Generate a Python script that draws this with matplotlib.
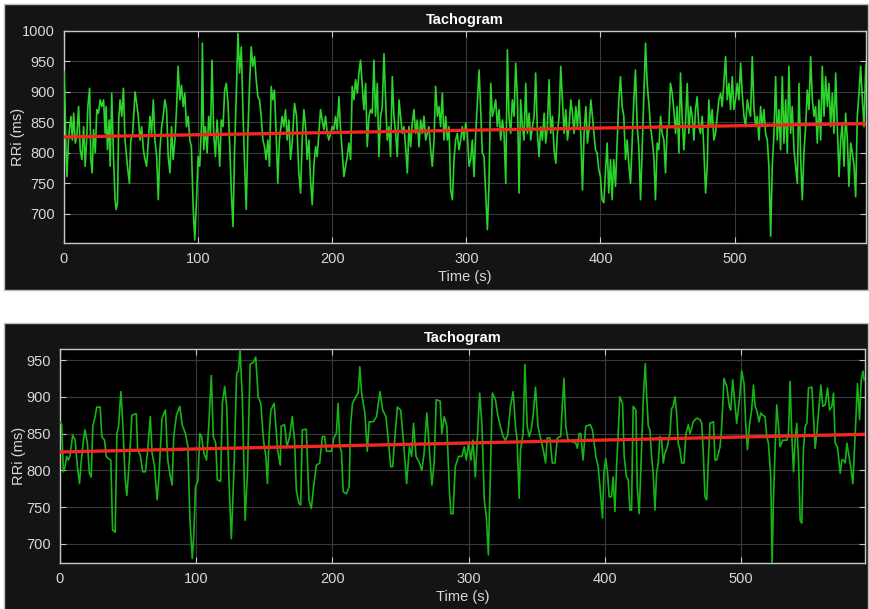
import matplotlib
matplotlib.use("Agg")
import matplotlib.pyplot as plt
from matplotlib.patches import Rectangle

# ---------------- data ----------------
top_time = [0, 0.7, 1.5, 2.2, 3.2, 4.0, 5.2, 6.2, 7.2, 8.4, 9.7, 10.9, 12.1, 13.4, 14.6, 15.8, 17.1, 17.8, 19.1, 20.0,
            21.0, 22.0, 23.3, 24.5, 25.7, 27.0, 28.2, 29.5, 30.7, 31.4, 32.4, 33.7, 34.4, 35.6, 36.9, 38.1, 38.9, 39.9,
            40.8, 41.8, 43.1, 44.3, 45.5, 47.3, 48.8, 49.8, 51.2, 53.0, 54.2, 55.4, 56.7, 57.9, 59.2, 60.4, 61.6, 62.9,
            64.1, 65.3, 66.6, 67.8, 69.1, 70.3, 71.5, 72.8, 74.0, 75.2, 76.5, 77.7, 79.0, 80.2, 81.4, 82.7, 83.9, 85.1,
            86.4, 87.6, 88.9, 90.1, 91.3, 92.6, 93.8, 95.0, 96.3, 97.5, 98.8, 100.0, 101.2, 102.5, 103.2, 104.2, 105.4,
            106.7, 107.9, 109.2, 110.4, 111.6, 112.9, 114.1, 115.1, 116.1, 117.3, 118.6, 119.8, 121.0, 122.3, 123.5,
            124.8, 126.0, 127.2, 128.5, 129.7, 130.9, 132.2, 133.4, 134.7, 135.9, 137.1, 138.4, 139.6, 140.8, 142.1,
            143.3, 144.6, 145.8, 147.0, 148.3, 149.5, 150.7, 152.0, 153.2, 154.5, 155.7, 156.9, 158.2, 159.4, 160.6,
            162.7, 163.9, 165.2, 166.4, 167.7, 168.9, 170.1, 171.9, 173.4, 175.1, 176.4, 177.6, 178.9, 180.1, 181.3,
            182.6, 183.8, 185.1, 186.3, 187.6, 188.8, 190.0, 191.3, 192.5, 193.8, 195.0, 196.3, 197.5, 198.8, 200.0,
            201.2, 202.5, 203.7, 205.0, 206.2, 207.5, 208.7, 210.0, 211.2, 212.4, 213.7, 214.9, 216.2, 217.4, 218.7,
            219.9, 221.1, 222.4, 223.6, 224.9, 226.1, 227.4, 228.6, 229.9, 231.1, 232.3, 233.6, 234.8, 236.1, 237.3,
            238.6, 239.8, 241.0, 242.3, 243.5, 244.8, 246.0, 247.3, 248.5, 249.8, 251.0, 252.2, 253.5, 254.7, 256.0,
            257.2, 258.5, 259.7, 260.9, 262.2, 263.4, 264.7, 265.9, 267.2, 268.4, 269.7, 270.9, 272.1, 273.4, 274.6,
            275.9, 277.1, 278.4, 279.6, 280.8, 282.1, 283.3, 284.6, 285.8, 287.1, 288.3, 289.6, 290.8, 292.0, 293.3,
            294.5, 295.8, 297.0, 298.3, 299.5, 300.7, 302.0, 303.2, 304.5, 305.7, 307.0, 308.2, 309.5, 310.7, 311.9,
            313.2, 314.4, 315.7, 316.9, 318.2, 319.4, 320.6, 321.9, 323.1, 324.4, 325.6, 326.9, 328.1, 329.4, 330.6,
            331.8, 333.1, 334.3, 335.6, 336.8, 338.1, 339.3, 340.5, 341.8, 343.0, 344.3, 345.5, 346.8, 348.0, 349.3,
            350.5, 351.7, 353.0, 354.2, 355.5, 356.7, 358.0, 359.2, 360.4, 361.7, 362.9, 364.2, 365.4, 366.7, 367.9,
            369.2, 370.4, 371.6, 372.9, 374.1, 375.4, 376.6, 377.9, 379.1, 380.3, 381.6, 382.8, 384.1, 385.3, 386.6,
            387.8, 389.1, 390.3, 391.6, 392.8, 394.0,
            396.3, 397.5, 398.8, 400.0, 401.2, 402.5, 403.7, 405.0, 406.2, 407.5, 408.7, 409.9, 411.2, 412.4, 413.7,
            414.9, 416.2, 417.4, 418.7, 419.9, 421.1, 422.4, 423.6, 424.9, 426.1, 427.4, 428.6, 429.9, 431.1, 432.3,
            433.6, 434.8, 436.1, 437.3, 438.6, 439.8, 441.0, 442.3, 443.5, 444.8, 446.0, 447.3, 448.5, 449.8, 451.0,
            452.2, 453.5, 454.7, 456.0, 457.2, 458.5, 459.7, 460.9, 462.2, 463.4, 464.7, 465.9, 467.2, 468.4, 469.7,
            470.9, 472.1, 473.4, 474.6, 475.9, 477.1, 478.4, 479.6, 480.8, 482.1, 483.3, 484.6, 485.8, 487.1, 488.3,
            489.6, 490.8, 492.0, 493.3, 494.5, 495.8, 497.0, 498.3, 499.5, 500.7, 502.0, 503.2, 504.5, 505.7, 507.0,
            508.2, 509.5, 510.7, 511.9, 513.2, 514.4, 515.7, 516.9, 518.2, 519.4, 520.6, 521.9, 523.1, 524.4, 525.6,
            526.9, 528.1, 529.4, 530.6, 531.8, 533.1, 534.3, 535.6, 536.8, 538.1, 539.3, 540.5, 541.8, 543.0, 544.3,
            545.5, 546.8, 548.0, 549.3, 550.5, 551.7, 553.0, 554.2, 555.5, 556.7, 558.0, 559.2, 560.4, 561.7, 562.9,
            564.2, 565.4, 566.7, 567.9, 569.2, 570.4, 571.6, 572.9, 574.1, 575.4, 576.6, 577.9, 579.1, 580.3, 581.6,
            582.8, 584.1, 585.3, 586.6, 587.8, 589.1, 590.3, 591.5, 592.8, 594.0, 595.3, 596.5, 597.8, 599.0]

top_rri = [933, 887, 800, 761, 816, 838, 860, 821, 865, 816, 832, 876, 805, 789, 843, 778, 832, 876, 906, 789,
           767, 838, 800, 871, 865, 887, 876, 887, 832, 876, 805, 854, 778, 898, 794, 723, 707, 718,
           854, 887, 860, 906, 821, 778, 750, 821, 832, 900, 881, 860, 821, 843, 805, 789, 778, 821,
           860, 832, 887, 821, 794, 723, 805, 843, 860, 887, 871, 794, 767, 843, 789, 821, 871, 942,
           887, 911, 876, 898, 843, 860, 821, 810, 712, 657, 723, 794, 778, 843, 980, 805, 843,
           800, 860, 832, 952, 832, 794, 854, 821, 778, 854, 843, 903, 914, 881, 816,
           734, 679, 805, 898, 996, 931, 974, 871, 778, 707, 832, 914, 974, 942, 958,
           920, 892, 887, 860, 821, 810, 789, 821, 778, 909, 887, 903, 832, 750, 821,
           860, 843, 871, 821, 854, 789, 816, 881, 860, 767, 734, 821, 871, 843, 789,
           821, 756, 715, 778, 810, 794, 832, 871, 854, 838, 860, 832, 821, 832, 843,
           838, 860, 838, 892, 838, 800, 761, 778, 794, 816, 789, 909, 887, 920, 898,
           931, 952, 909, 871, 914, 810, 860, 871, 865, 952, 860, 914, 794, 860, 876,
           963, 887, 821, 843, 794, 925, 860, 832, 794, 887, 860, 832, 843, 810, 767,
           843, 810, 849, 871, 832, 854, 810, 854, 832, 860, 821, 832, 843, 805, 778,
           821, 909, 860, 876, 843, 898, 821, 860, 821, 843, 739, 723, 789, 821, 832,
           805, 821, 843, 821, 849, 832, 778, 789, 821, 761, 832, 881, 936, 871, 800,
           794, 734, 674, 750, 914, 860, 871, 887, 843, 871, 821, 854, 832, 750, 969,
           860, 832, 887, 860, 947, 887, 734, 887, 843, 821, 914, 832, 865, 821, 843,
           860, 931, 832, 794, 843, 821, 865, 816, 843, 920, 832, 860, 805, 783, 832,
           860, 942, 887, 832, 871, 821, 843, 887, 865, 832, 876, 843, 887, 832, 739,
           832, 876, 816, 843, 887, 860,
           805, 800, 772, 761, 723, 718, 767, 816, 734, 789, 723, 789, 745, 816, 887,
           925, 876, 860, 789, 821, 783, 750, 816, 887, 936, 843, 810, 723, 805, 887,
           980, 914, 881, 843, 821, 794, 723, 816, 805, 860, 832, 821, 767, 843, 843,
           914, 898, 871, 832, 876, 800, 931, 860, 805, 849, 914, 832, 876, 860, 821,
           871, 892, 843, 832, 860, 805, 734, 778, 887, 843, 871, 821, 832, 860, 887,
           898, 876, 914, 958, 887, 914, 871, 925, 871, 887, 914, 887, 947, 898, 860,
           843, 887, 871, 860, 958, 876, 843, 860, 821, 876, 843, 871, 832, 821, 778,
           663, 778, 832, 925, 821, 871, 805, 925, 816, 887, 800, 942, 832, 876, 805,
           778, 750, 914, 789, 723, 800, 843, 903, 871, 958, 887, 860, 876, 816, 887,
           821, 942, 860, 925, 876, 914, 843, 898, 832, 931, 843, 761, 821, 849, 778,
           865, 821, 745, 816, 800, 778, 728, 860, 898, 942, 887, 843, 942, 958]

bottom_time = [0, 1.2, 2.5, 3.7, 4.9, 6.1, 7.4, 9.3, 11.1, 12.8, 14.3, 15.5, 17.2, 18.4, 20.1, 21.6, 22.9, 24.1, 25.8,
               27.0, 29.5, 30.7, 32.7, 33.9, 35.6, 37.3, 38.6, 40.5, 41.8, 43.0, 44.7, 46.2, 47.9, 49.1, 51.1, 52.8,
               56.0, 57.0, 59.0, 60.7, 62.7, 64.4, 66.3, 67.6, 69.3, 71.3, 72.5, 74.9, 77.4, 79.1, 80.6, 82.3, 83.5,
               85.5, 88.0, 89.7, 92.1, 93.9, 95.3, 97.1, 98.3, 99.5, 101.2, 102.7, 103.9, 105.7, 107.6, 109.3, 111.1,
               112.5, 114.3, 115.5, 117.9, 119.2, 120.9, 122.4, 124.1, 125.8, 127.8, 129.7, 131.0, 132.2, 133.9,
               135.9, 137.6, 139.6, 142.0, 143.7, 145.5, 147.4, 149.4, 151.1, 152.3, 153.6, 154.8, 157.2, 158.5,
               159.7, 161.7,
               162.4, 164.9, 166.6, 168.6, 170.5, 172.2, 173.5, 175.4, 176.7, 177.9, 180.8, 182.8, 184.5, 186.2,
               188.2, 190.7, 192.6, 194.3, 195.6, 199.3, 201.0, 202.9, 204.2, 205.4, 206.6, 207.9, 210.3, 212.3,
               213.3, 214.7, 217.2, 218.9, 220.1, 221.4, 223.8, 225.6, 227.0, 230.0, 232.4, 234.9, 236.9, 239.3,
               241.0, 242.8, 244.2, 245.9, 247.7, 250.1, 252.1, 254.5, 256.5, 258.2, 259.5, 261.4, 263.9, 265.6,
               267.3, 269.3, 271.0, 273.0, 274.7, 276.2, 279.1, 280.3, 282.1, 284.0, 286.0, 287.0, 288.5, 290.2,
               292.6, 295.1, 296.8, 298.3, 300.0, 301.7, 303.2, 304.9, 306.6, 308.1, 309.8, 311.5, 313.0, 314.5,
               316.0, 317.4, 319.7, 321.4, 323.3, 325.3, 327.0, 328.7, 330.7, 332.7, 334.4, 335.6, 337.1, 338.1,
               340.0, 341.3, 343.0, 344.5, 345.9, 347.4, 349.1, 350.9, 352.8, 354.8, 356.5, 357.7, 359.7, 361.4,
               363.4, 365.1, 367.6, 368.8, 370.0, 371.3, 373.0, 376.2, 378.6, 379.9, 381.1, 382.3, 384.0, 386.0,
               389.2, 390.9, 393.4,
               395.1, 396.8, 398.3, 399.3, 400.7, 402.0, 403.2, 404.9, 406.1, 407.4, 408.6, 409.8, 411.0, 413.0,
               414.2, 415.9, 417.2, 418.4, 419.6, 420.8, 422.8, 423.8, 425.2, 426.5, 428.2, 429.7, 430.6, 431.9,
               433.1, 434.3, 435.5, 436.8, 438.0, 439.2, 440.4, 441.7, 442.9, 444.1, 445.8, 447.8, 449.0, 450.2,
               451.5, 452.7, 453.9, 455.1, 456.4, 458.1, 459.6, 461.3, 462.5, 463.7, 464.9, 467.4, 469.9, 471.1,
               472.3, 473.5, 474.8, 476.0, 477.2, 479.7, 480.9, 482.1, 484.6, 485.8, 487.5, 489.5, 491.4, 492.4,
               493.9, 495.1, 496.8, 498.8, 500.5, 502.2, 503.4, 504.7, 506.1, 507.8, 509.1, 510.3, 511.5, 513.2,
               514.5, 515.9, 517.6, 518.9, 520.1, 521.8, 522.8, 523.8, 525.0, 526.2, 527.5, 528.7, 530.6, 533.6,
               534.8, 536.0, 537.3, 538.5, 539.7, 540.9, 542.2, 543.4, 544.6, 545.8, 547.1, 548.3, 549.5, 552.0,
               553.2, 554.4, 555.6, 556.9, 558.6, 560.0, 561.8, 563.5, 565.0, 566.7, 567.9, 569.1, 570.8, 572.8,
               574.0, 575.2, 576.5, 577.7, 578.9, 580.1, 582.1, 583.8, 585.5, 587.0, 588.2, 589.5, 590.4]

bottom_rri = [866, 862, 798, 805, 819, 814, 820, 848, 841, 805, 782, 810, 841, 855, 837, 796, 791, 860, 873,
              886, 886, 846, 841, 819, 816, 814, 719, 716, 850, 860, 907, 860, 787, 766, 819, 875,
              877, 828, 820, 798, 798, 828, 873, 823, 807, 760, 787, 871, 882, 814, 796, 780, 846,
              875, 887, 862, 850, 832, 737, 680, 714, 778, 785, 850, 846, 823, 814, 864, 929,
              846, 837, 787, 785, 891, 914, 887, 782, 707, 805, 932, 935, 964, 896,
              732, 796, 944, 947, 954, 900, 891, 841, 819, 782, 850, 882, 891, 860,
              828, 807,
              860, 862, 832, 846, 873, 841, 773, 755, 753, 855, 856, 760, 748, 778,
              807, 810, 846, 846, 826, 826, 844, 850, 891, 832, 826, 771, 768, 778,
              860, 891, 900, 905, 941, 905, 878, 826, 866, 866, 873, 907, 882, 873,
              841, 805, 805, 846, 886, 882, 841, 782, 832, 819, 864, 819, 810, 800,
              823, 878, 832, 780, 810, 896, 894, 850, 873, 860, 768, 741, 741, 805,
              819, 819, 832, 814, 837, 814, 841, 791, 850, 905, 860, 760, 737, 685,
              796, 905, 896, 875, 860, 846, 841, 848, 887, 907, 860, 841, 762, 828,
              850, 944, 860, 846, 855, 875, 913, 860, 844, 828, 810, 844, 844, 810,
              810, 844, 846, 889, 925, 860, 841, 839, 837, 830, 850, 850, 814, 860,
              862, 855, 819,
              805, 769, 735, 796, 816, 796, 764, 764, 791, 744, 805, 850, 900, 891,
              819, 791, 787, 746, 746, 887, 882, 778, 741, 805, 896, 945, 905, 860,
              855, 819, 796, 746, 796, 810, 846, 841, 810, 823, 832, 850, 884, 887,
              900, 878, 837, 828, 810, 810, 850, 862, 850, 857, 866, 871, 869, 864,
              823, 764, 760, 814, 864, 866, 814, 814, 832, 860, 925, 914, 887, 882,
              923, 898, 864, 896, 935, 918, 864, 828, 860, 882, 916, 887, 882, 866,
              878, 875, 873, 846, 837, 791, 673, 760, 828, 889, 860, 832, 841, 841,
              850, 921, 846, 798, 841, 864, 814, 732, 728, 828, 860, 864, 912, 913,
              873, 830, 850, 878, 916, 887, 889, 912, 882, 887, 905, 837, 832, 796,
              814, 814, 810, 837, 823, 810, 782, 850, 918, 869, 923, 935, 923]

# linear trend (start/end values)
top_trend_time = [0, 598]
top_trend_rri = [826, 848]
bottom_trend_time = [0, 591]
bottom_trend_rri = [825, 849]

x_ticks = [0, 100, 200, 300, 400, 500]
top_y_ticks = [700, 750, 800, 850, 900, 950, 1000]
bottom_y_ticks = [700, 750, 800, 850, 900, 950]

# ---------------- figure ----------------
W, H = 869, 609
plt.rcParams['font.family'] = ['Liberation Sans', 'DejaVu Sans']
fig = plt.figure(figsize=(W / 100, H / 100), dpi=100, facecolor='white')

def px_rect(x0, y0, x1, y1):
    return [x0 / W, (H - y1) / H, (x1 - x0) / W, (y1 - y0) / H]

# dark panels behind the axes
for (x0, y0, x1, y1) in [(4, 4, 868, 290), (4, 323, 868, 612)]:
    l, b, w, h = px_rect(x0, y0, x1, y1)
    rect = Rectangle((l, b), w, h, transform=fig.transFigure,
                     facecolor='#141414', edgecolor='#bdbdbd', linewidth=1.0)
    rect.set_zorder(-10)
    fig.add_artist(rect)

fg = '#d8d8d8'
grid_c = '#3a3a3a'
fs = 10.5

def style(ax, t, v, tt, tv, xlim, ylim, yticks, line_color, ylabel_x):
    ax.set_zorder(1)
    ax.set_facecolor('black')
    ax.plot(t, v, color=line_color, linewidth=1.2, zorder=3)
    ax.plot(tt, tv, color='#f0281e', linewidth=2.4, zorder=4)
    ax.set_xlim(*xlim)
    ax.set_ylim(*ylim)
    ax.set_xticks(x_ticks)
    ax.set_yticks(yticks)
    ax.grid(True, color=grid_c, linewidth=0.8)
    ax.set_axisbelow(True)
    for s in ax.spines.values():
        s.set_color('#c8c8c8')
        s.set_linewidth(1.0)
    ax.tick_params(direction='in', colors='#c8c8c8', labelcolor=fg, labelsize=fs,
                   top=True, right=True, length=4, width=0.8, pad=6.5)
    ax.set_title('Tachogram', color='white', fontsize=fs, fontweight='bold', pad=5)
    ax.set_xlabel('Time (s)', color=fg, fontsize=fs, labelpad=2.5)
    ax.set_ylabel('RRi (ms)', color=fg, fontsize=fs)
    ax.yaxis.set_label_coords(ylabel_x, 0.5)

ax1 = fig.add_axes(px_rect(64, 31, 866, 243))
style(ax1, top_time, top_rri, top_trend_time, top_trend_rri, (0, 598), (652, 1000), top_y_ticks,
      '#2ad42a', -0.0486)

ax2 = fig.add_axes(px_rect(60, 349, 865, 563))
style(ax2, bottom_time, bottom_rri, bottom_trend_time, bottom_trend_rri, (0, 591), (674, 965), bottom_y_ticks,
      '#16b416', -0.042)

fig.savefig('out.png', dpi=100, facecolor='white')
